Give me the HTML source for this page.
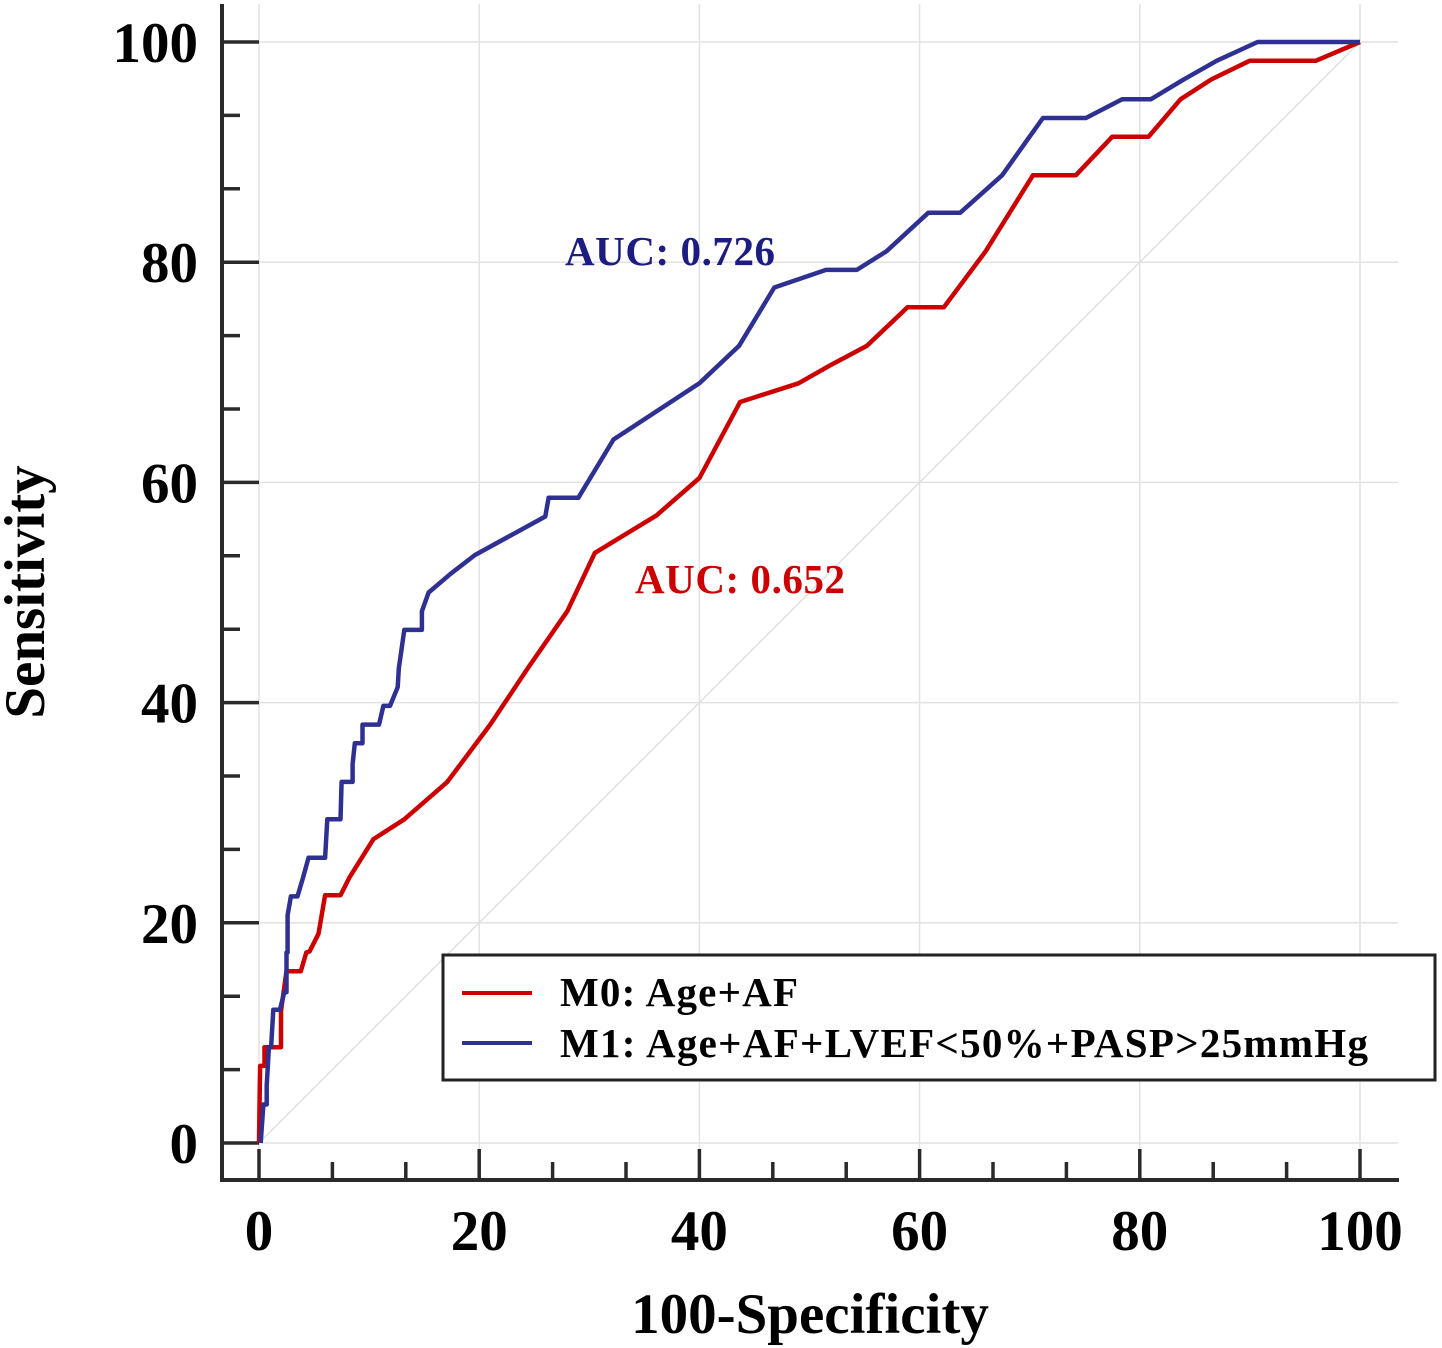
<!DOCTYPE html>
<html><head><meta charset="utf-8"><style>
html,body{margin:0;padding:0;background:#fff;}
svg{display:block;font-family:"Liberation Serif",serif;font-weight:bold;}
</style></head><body>
<svg id="chart" width="1442" height="1348" viewBox="0 0 1442 1348" xmlns="http://www.w3.org/2000/svg">
<g id="grid"></g>
<g id="axes"></g>
<g id="series"></g>
<text x="565" y="265" font-size="41" fill="#1c1c82" textLength="210">AUC: 0.726</text>
<text x="635" y="593" font-size="41" fill="#cc0000" textLength="210">AUC: 0.652</text>
<text x="810" y="1333" font-size="57" text-anchor="middle" fill="#000">100-Specificity</text>
<text transform="translate(44,592) rotate(-90)" font-size="57" text-anchor="middle" fill="#000">Sensitivity</text>
<g>
<rect x="443" y="955" width="992" height="125" fill="#fff" stroke="#222" stroke-width="3"/>
<line x1="462" y1="993" x2="532" y2="993" stroke="#cc0000" stroke-width="4"/>
<text x="560" y="1006" font-size="41" fill="#000" textLength="238">M0: Age+AF</text>
<line x1="462" y1="1043" x2="532" y2="1043" stroke="#2e3192" stroke-width="4"/>
<text x="560" y="1057" font-size="41" fill="#000" textLength="808">M1: Age+AF+LVEF&lt;50%+PASP&gt;25mmHg</text>
</g>
</svg>
<script>
const xTicks=[0,20,40,60,80,100];
const yTicks=[0,20,40,60,80,100];
const m0X=[0,0.1,0.5,0.5,2.0,2.0,2.5,3.8,4.3,4.6,5.4,6.0,7.4,8.2,10.4,13.2,17.1,21.0,24.4,28.0,30.5,36.1,40.0,43.7,49.0,52.0,55.2,58.9,62.2,66.0,70.3,74.2,77.5,80.8,83.7,86.5,90.0,96.0,100];
const m0Y=[0,7.0,7.0,8.7,8.7,12.0,15.6,15.6,17.3,17.4,19.0,22.5,22.5,24.1,27.6,29.4,32.8,38.0,43.1,48.3,53.6,57.0,60.4,67.3,69.0,70.7,72.4,75.9,75.9,81.0,87.9,87.9,91.4,91.4,94.8,96.6,98.3,98.3,100];
const m1X=[0.15,0.4,0.7,0.7,0.9,1.1,1.3,1.9,2.3,2.5,2.5,2.6,2.6,2.9,3.5,4.0,4.5,6.0,6.2,7.4,7.5,8.5,8.5,8.7,9.4,9.4,10.9,11.3,11.9,12.6,12.7,13.2,14.8,14.8,15.4,17.4,19.6,26.0,26.3,29.0,32.2,40.0,43.6,46.8,51.5,54.3,57.0,60.8,63.7,67.5,71.2,75.1,78.4,81.0,84.0,87.0,90.7,100];
const m1Y=[0,3.5,3.5,5.2,8.7,8.7,12.1,12.1,13.7,13.7,17.3,17.3,20.7,22.4,22.4,24.1,25.9,25.9,29.4,29.4,32.8,32.8,34.4,36.3,36.3,38.0,38.0,39.7,39.7,41.4,43.1,46.6,46.6,48.3,50.0,51.7,53.4,56.9,58.6,58.6,63.9,69.0,72.4,77.7,79.3,79.3,81.0,84.5,84.5,87.9,93.1,93.1,94.8,94.8,96.6,98.3,100,100];
const NS="http://www.w3.org/2000/svg";
const X=v=>259+v*11.01;
const Y=v=>1143-v*11.01;
function mk(tag,attrs,parent){const e=document.createElementNS(NS,tag);for(const k in attrs)e.setAttribute(k,attrs[k]);document.getElementById(parent).appendChild(e);return e;}
xTicks.forEach(t=>{const l=mk('line',{x1:X(t),x2:X(t),y1:4,y2:1180,stroke:'#e2e2e2','stroke-width':1.5},'grid');

});
yTicks.forEach(t=>{const l=mk('line',{x1:222,x2:1398,y1:Y(t),y2:Y(t),stroke:'#e2e2e2','stroke-width':1.5},'grid');

});
const dg=mk('line',{x1:X(0),y1:Y(0),x2:X(100),y2:Y(100),stroke:'#e0e0e0','stroke-width':1.5},'grid');


const ya=mk('line',{x1:222,x2:222,y1:4,y2:1182,stroke:'#2a2a2a','stroke-width':4},'axes');


const xa=mk('line',{x1:220,x2:1399,y1:1180,y2:1180,stroke:'#2a2a2a','stroke-width':4},'axes');


for(let i=0;i<=15;i++){const v=i*20/3;const major=i%3===0;
const ty=mk('line',{x1:222,x2:major?259:240,y1:Y(v),y2:Y(v),stroke:'#2a2a2a','stroke-width':3.5},'axes');


const tx=mk('line',{x1:X(v),x2:X(v),y1:1180,y2:major?1149:1162,stroke:'#2a2a2a','stroke-width':3.5},'axes');

}
yTicks.forEach(t=>{const e=mk('text',{x:198,y:Y(t)+20,'font-size':57,'text-anchor':'end',fill:'#000'},'axes');e.textContent=t;

});
xTicks.forEach(t=>{const e=mk('text',{x:X(t),y:1250,'font-size':57,'text-anchor':'middle',fill:'#000'},'axes');e.textContent=t;

});
function pts(xs,ys){return xs.map((x,i)=>X(x).toFixed(1)+','+Y(ys[i]).toFixed(1)).join(' ');}
const r=mk('polyline',{points:pts(m0X,m0Y),fill:'none',stroke:'#cc0000','stroke-width':4.5,'stroke-linejoin':'round'},'series');


const b=mk('polyline',{points:pts(m1X,m1Y),fill:'none',stroke:'#2e3192','stroke-width':4.5,'stroke-linejoin':'round'},'series');


</script>
</body></html>
